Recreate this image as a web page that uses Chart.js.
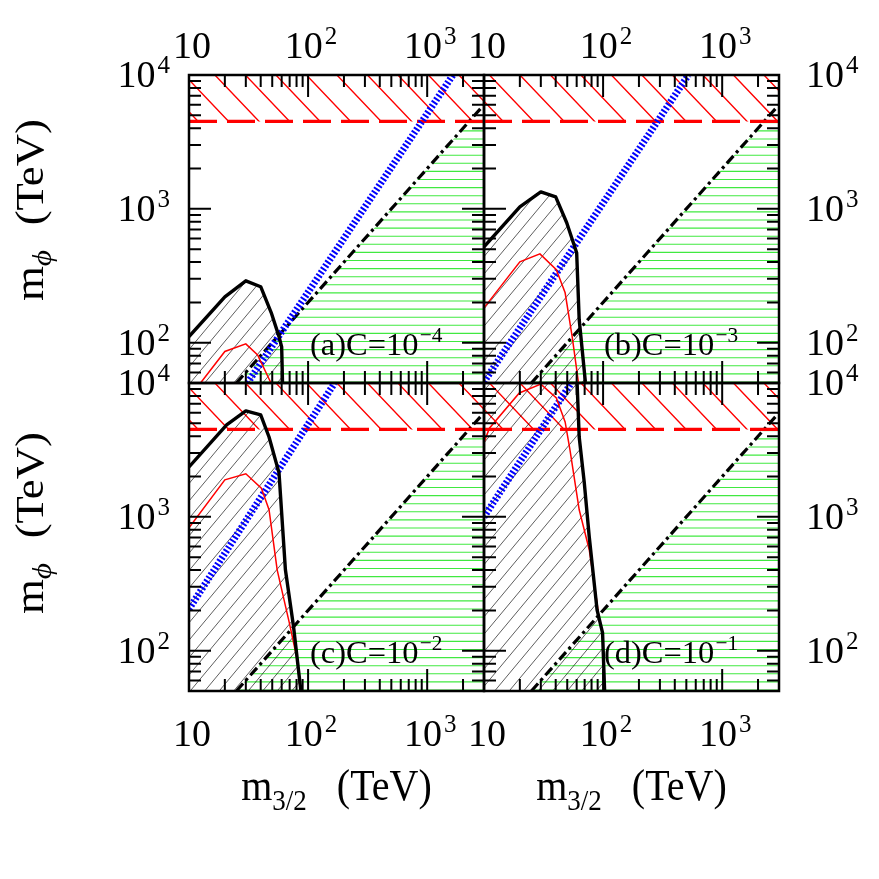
<!DOCTYPE html>
<html><head><meta charset="utf-8">
<script src="https://cdn.jsdelivr.net/npm/chart.js@4.4.1/dist/chart.umd.min.js"></script>
<style>
html,body{margin:0;padding:0;background:#fff;}
#wrap{position:relative;width:879px;height:879px;overflow:hidden;background:#fff;}
canvas{position:absolute;left:0;top:0;}
</style></head><body>
<div id="wrap">
<canvas id="c0" width="879" height="879"></canvas>
<canvas id="c1" width="879" height="879"></canvas>
<canvas id="c2" width="879" height="879"></canvas>
<canvas id="c3" width="879" height="879"></canvas>
</div>
<script>
// ---------- data ----------
const xMin = 10, xMax = 3000, yMin = 50, yMax = 10000;
const xTickLabels = [10, 100, 1000];
const yTickLabels = [100, 1000, 10000];
const panelLetters = ['a', 'b', 'c', 'd'];
const couplingExp = ['−4', '−3', '−2', '−1'];
const xTitle = ['m', '3/2', '(TeV)'];
const yTitle = ['m', 'ϕ', '(TeV)'];

// m_phi = 2 m_3/2 (dash-dot)
const dashDotX = [25, 3000];
const dashDotY = [50, 6000];
// red dashed horizontal limit
const limitY = 4500;

// thick black boundary
const blackX_a = [10, 20, 30, 40, 49, 57, 60, 61];
const blackY_a = [111, 220, 290, 262, 168, 111, 93, 50];
const blackX_b = [10, 20, 30, 40, 49.5, 60, 63, 71];
const blackY_b = [520, 1035, 1340, 1230, 787, 470, 149, 51];
const blackX_c = [10, 20.7, 30, 40, 47, 57, 64.5, 75.5, 87];
const blackY_c = [2360, 4860, 6180, 5770, 3950, 2130, 402, 151, 50];
const blackX_d = [60.5, 63, 69.5, 76.5, 89, 99, 103];
const blackY_d = [10000, 3950, 1800, 710, 202, 136, 50];

// thin red curve
const redX_a = [12.5, 20, 30, 37.7, 48.8];
const redY_a = [50, 86, 98, 81, 50];
const redX_b = [10, 20, 29.5, 40.5, 48, 55, 62];
const redY_b = [182, 402, 461, 351, 236, 111, 51];
const redX_c = [10, 20, 30, 40.5, 47, 55, 69.5, 81, 86];
const redY_c = [828, 1890, 2100, 1640, 1130, 402, 162, 86, 50];
const redX_d = [10, 11.1, 19.8, 30, 40.5, 48, 52.7, 63, 76.5, 89, 92];
const redY_d = [3600, 4600, 8420, 9800, 7730, 5120, 3160, 1130, 568, 228, 180];

// blue dotted line
const blueX_a = [31, 1645];
const blueY_a = [50, 10000];
const blueX_b = [10, 520];
const blueY_b = [51, 10000];
const blueX_c = [10, 167];
const blueY_c = [205, 10000];
const blueX_d = [10, 54];
const blueY_d = [1000, 10000];

// ---------- build ----------
const panels = [
  {blackX: blackX_a, blackY: blackY_a, redX: redX_a, redY: redY_a, blueX: blueX_a, blueY: blueY_a},
  {blackX: blackX_b, blackY: blackY_b, redX: redX_b, redY: redY_b, blueX: blueX_b, blueY: blueY_b},
  {blackX: blackX_c, blackY: blackY_c, redX: redX_c, redY: redY_c, blueX: blueX_c, blueY: blueY_c},
  {blackX: blackX_d, blackY: blackY_d, redX: redX_d, redY: redY_d, blueX: blueX_d, blueY: blueY_d}
];
const boxes = [
  {l: 189, t: 75, r: 484, b: 383, top: true, left: true},
  {l: 484, t: 75, r: 779, b: 383, top: true, left: false},
  {l: 189, t: 383, r: 484, b: 691, top: false, left: true},
  {l: 484, t: 383, r: 779, b: 691, top: false, left: false}
];
const FONT = '"Liberation Serif", "Times New Roman", serif';
const STRETCH = 1.12;

function pts(xs, ys) { return xs.map((x, i) => ({x: x, y: ys[i]})); }

function logTicks(a, b) {
  const out = [];
  for (let e = Math.floor(Math.log10(a)); e <= Math.ceil(Math.log10(b)); e++) {
    for (let m = 1; m <= 9; m++) {
      const v = m * Math.pow(10, e);
      if (v >= a * 0.999 && v <= b * 1.001) out.push({v: v, major: m === 1});
    }
  }
  return out;
}

function drawPow(ctx, x, y, exp, align, F, Fs, raise) {
  ctx.font = F + 'px ' + FONT;
  const w1 = ctx.measureText('10').width;
  ctx.font = Fs + 'px ' + FONT;
  const w2 = exp ? ctx.measureText(exp).width + 2 : 0;
  const tot = w1 + w2;
  const x0 = align === 'center' ? x - tot / 2 : (align === 'right' ? x - tot : x);
  ctx.save();
  ctx.translate(x0, y);
  ctx.fillStyle = '#000'; ctx.textAlign = 'left'; ctx.textBaseline = 'alphabetic';
  ctx.font = F + 'px ' + FONT; ctx.fillText('10', 0, 0);
  if (exp) { ctx.font = Fs + 'px ' + FONT; ctx.fillText(exp, w1 + 2, -raise); }
  ctx.restore();
}

function hatchLines(ctx, ca, k, spacing, phase, up) {
  const H = ca.bottom - ca.top + 4;
  const span = H / k;
  ctx.beginPath();
  for (let x0 = Math.floor((ca.left - span - phase) / spacing) * spacing + phase; x0 < ca.right + span + spacing; x0 += spacing) {
    if (up) { ctx.moveTo(x0, ca.bottom + 2); ctx.lineTo(x0 + span, ca.top - 2); }
    else { ctx.moveTo(x0, ca.top - 2); ctx.lineTo(x0 + span, ca.bottom + 2); }
  }
  ctx.stroke();
}

const decor = {
  id: 'decor',
  beforeDatasetsDraw(chart, args, opts) {
    const i = opts.idx, p = panels[i];
    const {ctx, chartArea: ca} = chart;
    const X = v => chart.scales.x.getPixelForValue(v);
    const Y = v => chart.scales.y.getPixelForValue(v);
    ctx.save();
    ctx.beginPath(); ctx.rect(ca.left, ca.top, ca.right - ca.left, ca.bottom - ca.top); ctx.clip();

    // green horizontal hatching below the dash-dot line and the limit
    ctx.save();
    ctx.beginPath();
    ctx.moveTo(X(dashDotX[0]), Y(dashDotY[0]));
    ctx.lineTo(X(dashDotX[1]), Y(dashDotY[1]));
    ctx.lineTo(ca.right + 5, Y(dashDotY[1]));
    ctx.lineTo(ca.right + 5, ca.bottom + 5);
    ctx.lineTo(X(dashDotX[0]), ca.bottom + 5);
    ctx.closePath(); ctx.clip();
    ctx.beginPath(); ctx.rect(ca.left, Y(limitY) + 2, ca.right - ca.left, ca.bottom - Y(limitY)); ctx.clip();
    ctx.strokeStyle = 'rgba(0,225,0,0.75)'; ctx.lineWidth = 1.1;
    ctx.beginPath();
    for (let yy = ca.bottom - 1; yy > ca.top; yy -= 8.1) { ctx.moveTo(ca.left, yy); ctx.lineTo(ca.right, yy); }
    ctx.stroke();
    ctx.restore();

    // red hatching above the limit
    ctx.save();
    ctx.beginPath(); ctx.rect(ca.left, ca.top, ca.right - ca.left, Y(limitY) - ca.top); ctx.clip();
    ctx.strokeStyle = '#ff0000'; ctx.lineWidth = 1.4;
    hatchLines(ctx, ca, 1.05, 30.5, 213, false);
    ctx.restore();

    // black hatching in the excluded region
    ctx.save();
    ctx.beginPath();
    ctx.moveTo(X(xMin) - 5, ca.bottom + 5);
    if (p.blackY[0] >= yMax) ctx.lineTo(X(xMin) - 5, ca.top - 5);
    p.blackX.forEach((x, j) => ctx.lineTo(X(x), Y(p.blackY[j])));
    ctx.lineTo(X(p.blackX[p.blackX.length - 1]), ca.bottom + 5);
    ctx.closePath(); ctx.clip();
    ctx.strokeStyle = 'rgba(0,0,0,0.8)'; ctx.lineWidth = 0.8;
    hatchLines(ctx, ca, 1.2, 14.5, 0, true);
    ctx.restore();

    ctx.restore();
  },
  afterDatasetsDraw(chart) {
    const {ctx, chartArea: ca} = chart;
    const X = v => chart.scales.x.getPixelForValue(v);
    const Y = v => chart.scales.y.getPixelForValue(v);
    ctx.save();
    ctx.strokeStyle = '#000'; ctx.lineWidth = 2; ctx.lineCap = 'butt';
    ctx.beginPath();
    logTicks(xMin, xMax).forEach(t => {
      const px = X(t.v), L = t.major ? 22 : 12;
      ctx.moveTo(px, ca.top); ctx.lineTo(px, ca.top + L);
      ctx.moveTo(px, ca.bottom); ctx.lineTo(px, ca.bottom - L);
    });
    logTicks(yMin, yMax).forEach(t => {
      const py = Y(t.v), L = t.major ? 22 : 12;
      ctx.moveTo(ca.left, py); ctx.lineTo(ca.left + L, py);
      ctx.moveTo(ca.right, py); ctx.lineTo(ca.right - L, py);
    });
    ctx.stroke();
    ctx.lineWidth = 2.5;
    ctx.strokeRect(ca.left, ca.top, ca.right - ca.left, ca.bottom - ca.top);
    ctx.restore();
  },
  afterDraw(chart, args, opts) {
    const i = opts.idx, bx = boxes[i];
    const {ctx, chartArea: ca} = chart;
    const X = v => chart.scales.x.getPixelForValue(v);
    const Y = v => chart.scales.y.getPixelForValue(v);
    const expOf = v => { const e = Math.round(Math.log10(v)); return e === 1 ? '' : String(e); };
    xTickLabels.forEach(v => {
      const y = bx.top ? 58 : 746;
      drawPow(ctx, X(v) + 3, y, expOf(v), 'center', 38, 25, 14);
    });
    yTickLabels.forEach(v => {
      if (bx.left) drawPow(ctx, 170, Y(v) + 12, expOf(v), 'right', 38, 25, 14);
      else drawPow(ctx, 806, Y(v) + 12, expOf(v), 'left', 38, 25, 14);
    });
    // panel label
    ctx.save();
    ctx.translate(bx.l + (bx.left ? 121 : 120), bx.b - 28);
    ctx.scale(1.12, STRETCH);
    ctx.fillStyle = '#000'; ctx.textAlign = 'left'; ctx.textBaseline = 'alphabetic';
    ctx.font = '29px ' + FONT;
    const base = '(' + panelLetters[i] + ')C=10';
    ctx.fillText(base, 0, 0);
    const w = ctx.measureText(base).width;
    ctx.font = '19px ' + FONT;
    ctx.fillText(couplingExp[i], w + 1, -12);
    ctx.restore();

    // axis titles
    if (bx.left) {
      ctx.save();
      ctx.translate(43, bx.top ? 210 : 523);
      ctx.rotate(-Math.PI / 2);
      ctx.scale(STRETCH, 1);
      ctx.fillStyle = '#000'; ctx.textBaseline = 'alphabetic'; ctx.textAlign = 'left';
      ctx.font = '40px ' + FONT; const wm = ctx.measureText(yTitle[0]).width;
      ctx.font = 'italic 28px ' + FONT; const ws = ctx.measureText(yTitle[1]).width;
      ctx.font = '40px ' + FONT; const wt = ctx.measureText(yTitle[2]).width;
      const gap = 22, tot = wm + ws + gap + wt;
      let x = -tot / 2;
      ctx.font = '40px ' + FONT; ctx.fillText(yTitle[0], x, 0); x += wm;
      ctx.font = 'italic 28px ' + FONT; ctx.fillText(yTitle[1], x, 8); x += ws + gap;
      ctx.font = '40px ' + FONT; ctx.fillText(yTitle[2], x, 0);
      ctx.restore();
    }
    if (!bx.top) {
      ctx.save();
      ctx.translate((ca.left + ca.right) / 2, 800);
      ctx.scale(1, STRETCH);
      ctx.fillStyle = '#000'; ctx.textBaseline = 'alphabetic'; ctx.textAlign = 'left';
      ctx.font = '40px ' + FONT; const wm = ctx.measureText(xTitle[0]).width;
      ctx.font = '27px ' + FONT; const ws = ctx.measureText(xTitle[1]).width;
      ctx.font = '40px ' + FONT; const wt = ctx.measureText(xTitle[2]).width;
      const gap = 30, tot = wm + ws + gap + wt;
      let x = -tot / 2;
      ctx.font = '40px ' + FONT; ctx.fillText(xTitle[0], x, 0); x += wm;
      ctx.font = '27px ' + FONT; ctx.fillText(xTitle[1], x, 9); x += ws + gap;
      ctx.font = '40px ' + FONT; ctx.fillText(xTitle[2], x, 0);
      ctx.restore();
    }
  }
};

panels.forEach((p, i) => {
  const bx = boxes[i];
  new Chart(document.getElementById('c' + i), {
    type: 'line',
    data: {
      datasets: [
        {data: pts(p.blackX, p.blackY), borderColor: '#000', borderWidth: 3.4, borderJoinStyle: 'round'},
        {data: pts(p.redX, p.redY), borderColor: '#ff0000', borderWidth: 1.5},
        {data: pts(p.blueX, p.blueY), borderColor: '#0000ff', borderWidth: 7, borderDash: [2, 2]},
        {data: pts([xMin, xMax], [limitY, limitY]), borderColor: '#ff0000', borderWidth: 3.2, borderDash: [28, 10]},
        {data: pts(dashDotX, dashDotY), borderColor: '#000', borderWidth: 3.2, borderDash: [10, 4, 3, 4]}
      ]
    },
    options: {
      responsive: false, animation: false, devicePixelRatio: 1, events: [],
      layout: {padding: {left: bx.l, top: bx.t, right: 879 - bx.r, bottom: 879 - bx.b}},
      elements: {point: {radius: 0}, line: {tension: 0, fill: false}},
      datasets: {line: {clip: 0}},
      plugins: {legend: {display: false}, tooltip: {enabled: false}, title: {display: false}, decor: {idx: i}},
      scales: {
        x: {type: 'logarithmic', min: xMin, max: xMax, display: false},
        y: {type: 'logarithmic', min: yMin, max: yMax, display: false}
      }
    },
    plugins: [decor]
  });
});
</script>
</body></html>
